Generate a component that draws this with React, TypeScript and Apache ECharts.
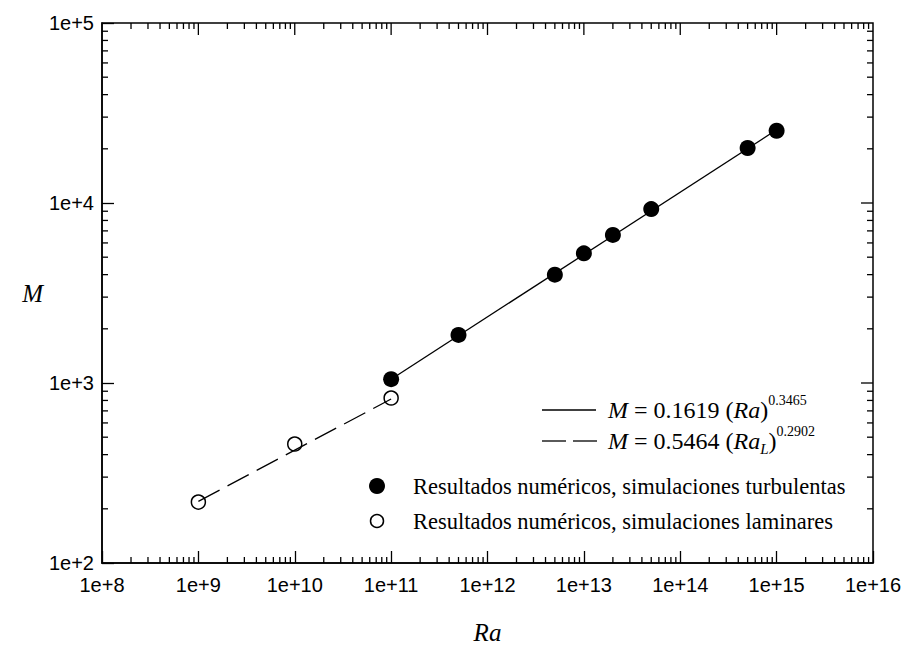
import React, { useEffect, useRef } from "react";
import * as echarts from "echarts";

// Data
const raTurb = [1e11, 5e11, 5e12, 1e13, 2e13, 5e13, 5e14, 1e15];
const mTurb = [1050, 1850, 4000, 5250, 6650, 9250, 20200, 25200];
const raLam = [1e9, 1e10, 1e11];
const mLam = [218, 458, 825];
const fitTurbRa = [1e11, 1e15];
const fitTurbM = [1049, 25500];
const fitLamRa = [1e9, 1e11];
const fitLamM = [220, 815];

const xMin = 1e8;
const xMax = 1e16;
const yMin = 1e2;
const yMax = 1e5;
const minorMult = [2, 3, 4, 5, 6, 7, 8, 9];

const legendTurb = "Resultados numéricos, simulaciones turbulentas";
const legendLam = "Resultados numéricos, simulaciones laminares";

const SERIF = "'Liberation Serif', 'DejaVu Serif', serif";
const SANS = "'Liberation Sans', Arial, sans-serif";

export default function App() {
  const ref = useRef<HTMLDivElement>(null);
  useEffect(() => {
    if (!ref.current) return;
    const chart = echarts.init(ref.current, null, { renderer: "svg" });
    const fmt = (v: number) => "1e+" + Math.round(Math.log10(v));

    const renderTicks = (params: any, api: any) => {
      const children: any[] = [];
      const ln = (x1: number, y1: number, x2: number, y2: number) =>
        children.push({
          type: "line",
          shape: { x1, y1, x2, y2 },
          style: { stroke: "#000", lineWidth: 1.3 },
        });
      const e0x = Math.round(Math.log10(xMin));
      const e1x = Math.round(Math.log10(xMax));
      for (let e = e0x; e < e1x; e++) {
        for (const m of minorMult) {
          const v = m * Math.pow(10, e);
          const pb = api.coord([v, yMin]);
          const pt = api.coord([v, yMax]);
          ln(pb[0], pb[1], pb[0], pb[1] - 6);
          ln(pt[0], pt[1], pt[0], pt[1] + 6);
        }
        if (e > e0x) {
          const pt = api.coord([Math.pow(10, e), yMax]);
          ln(pt[0], pt[1], pt[0], pt[1] + 12);
        }
      }
      const e0y = Math.round(Math.log10(yMin));
      const e1y = Math.round(Math.log10(yMax));
      for (let e = e0y; e < e1y; e++) {
        for (const m of minorMult) {
          const v = m * Math.pow(10, e);
          const pl = api.coord([xMin, v]);
          const pr = api.coord([xMax, v]);
          ln(pl[0], pl[1], pl[0] + 6, pl[1]);
          ln(pr[0], pr[1], pr[0] - 6, pr[1]);
        }
        if (e > e0y) {
          const pr = api.coord([xMax, Math.pow(10, e)]);
          ln(pr[0], pr[1], pr[0] - 12, pr[1]);
        }
      }
      return { type: "group", children };
    };

    const eqRich = {
      i: { fontFamily: SERIF, fontStyle: "italic", fontSize: 24, fill: "#000", verticalAlign: "middle", lineHeight: 32 },
      n: { fontFamily: SERIF, fontSize: 24, fill: "#000", verticalAlign: "middle", lineHeight: 32 },
      sup: { fontFamily: SERIF, fontSize: 14, fill: "#000", verticalAlign: "middle", padding: [0, 0, 19, 0] },
      sub: { fontFamily: SERIF, fontStyle: "italic", fontSize: 15, fill: "#000", verticalAlign: "middle", padding: [15, 0, 0, 0] },
    };

    chart.setOption({
      animation: false,
      backgroundColor: "#fff",
      grid: {
        left: 102,
        right: 31,
        top: 23,
        bottom: 82,
        show: true,
        borderColor: "#000",
        borderWidth: 1.5,
        backgroundColor: "transparent",
        outerBoundsMode: "none",
        containLabel: false,
      },
      xAxis: {
        type: "log",
        logBase: 10,
        min: xMin,
        max: xMax,
        splitNumber: 8,
        axisLine: { show: true, lineStyle: { color: "#000", width: 1.5 } },
        axisTick: { show: true, inside: true, length: 12, lineStyle: { color: "#000", width: 1.3 } },
        splitLine: { show: false },
        axisLabel: { formatter: fmt, color: "#000", fontFamily: SANS, fontSize: 20, margin: 12, showMinLabel: true, showMaxLabel: true },
        name: "Ra",
        nameLocation: "middle",
        nameGap: 57,
        nameTextStyle: { fontFamily: SERIF, fontStyle: "italic", fontSize: 25, color: "#000" },
      },
      yAxis: {
        type: "log",
        logBase: 10,
        min: yMin,
        max: yMax,
        splitNumber: 3,
        axisLine: { show: true, lineStyle: { color: "#000", width: 1.5 } },
        axisTick: { show: true, inside: true, length: 12, lineStyle: { color: "#000", width: 1.3 } },
        splitLine: { show: false },
        axisLabel: { formatter: fmt, color: "#000", fontFamily: SANS, fontSize: 20, margin: 8, showMinLabel: true, showMaxLabel: true },
        name: "M",
        nameLocation: "middle",
        nameGap: 56,
        nameRotate: 0,
        nameTextStyle: { fontFamily: SERIF, fontStyle: "italic", fontSize: 25, color: "#000" },
      },
      series: [
        {
          type: "custom",
          renderItem: renderTicks,
          data: [[xMin, yMin]],
          silent: true,
          clip: false,
          z: 5,
        },
        {
          type: "line",
          data: fitTurbRa.map((x, i) => [x, fitTurbM[i]]),
          symbol: "none",
          lineStyle: { color: "#000", width: 1.3, type: "solid" },
          z: 2,
          silent: true,
        },
        {
          type: "line",
          data: fitLamRa.map((x, i) => [x, fitLamM[i]]),
          symbol: "none",
          lineStyle: { color: "#000", width: 1.3, type: [24, 9] },
          z: 2,
          silent: true,
        },
        {
          type: "scatter",
          data: raTurb.map((x, i) => [x, mTurb[i]]),
          symbol: "circle",
          symbolSize: 16,
          itemStyle: { color: "#000", opacity: 1 },
          z: 3,
        },
        {
          type: "scatter",
          data: raLam.map((x, i) => [x, mLam[i]]),
          symbol: "circle",
          symbolSize: 14,
          itemStyle: { color: "rgba(0,0,0,0)", borderColor: "#000", borderWidth: 1.5, opacity: 1 },
          z: 3,
        },
      ],
      graphic: [
        { type: "line", shape: { x1: 542, y1: 410, x2: 596, y2: 410 }, style: { stroke: "#000", lineWidth: 1.3 } },
        {
          type: "text",
          x: 608,
          y: 410,
          style: {
            text: "{i|M}{n| = 0.1619 (}{i|Ra}{n|)}{sup|0.3465}",
            rich: eqRich,
            verticalAlign: "middle",
          },
        },
        { type: "line", shape: { x1: 542, y1: 441, x2: 566, y2: 441 }, style: { stroke: "#000", lineWidth: 1.3 } },
        { type: "line", shape: { x1: 573, y1: 441, x2: 597, y2: 441 }, style: { stroke: "#000", lineWidth: 1.3 } },
        {
          type: "text",
          x: 608,
          y: 441,
          style: {
            text: "{i|M}{n| = 0.5464 (}{i|Ra}{sub|L}{n|)}{sup|0.2902}",
            rich: eqRich,
            verticalAlign: "middle",
          },
        },
        { type: "circle", shape: { cx: 377, cy: 486, r: 8 }, style: { fill: "#000" } },
        {
          type: "text",
          x: 413,
          y: 486,
          style: { text: legendTurb, fontFamily: SERIF, fontSize: 22.5, fill: "#000", verticalAlign: "middle" },
        },
        { type: "circle", shape: { cx: 377, cy: 521, r: 6.5 }, style: { fill: "none", stroke: "#000", lineWidth: 1.5 } },
        {
          type: "text",
          x: 413,
          y: 521,
          style: { text: legendLam, fontFamily: SERIF, fontSize: 22.5, fill: "#000", verticalAlign: "middle" },
        },
      ],
    });
    return () => chart.dispose();
  }, []);
  return (
    <div
      ref={ref}
      style={{ position: "fixed", left: 0, top: 0, width: 904, height: 645, background: "#fff" }}
    />
  );
}
